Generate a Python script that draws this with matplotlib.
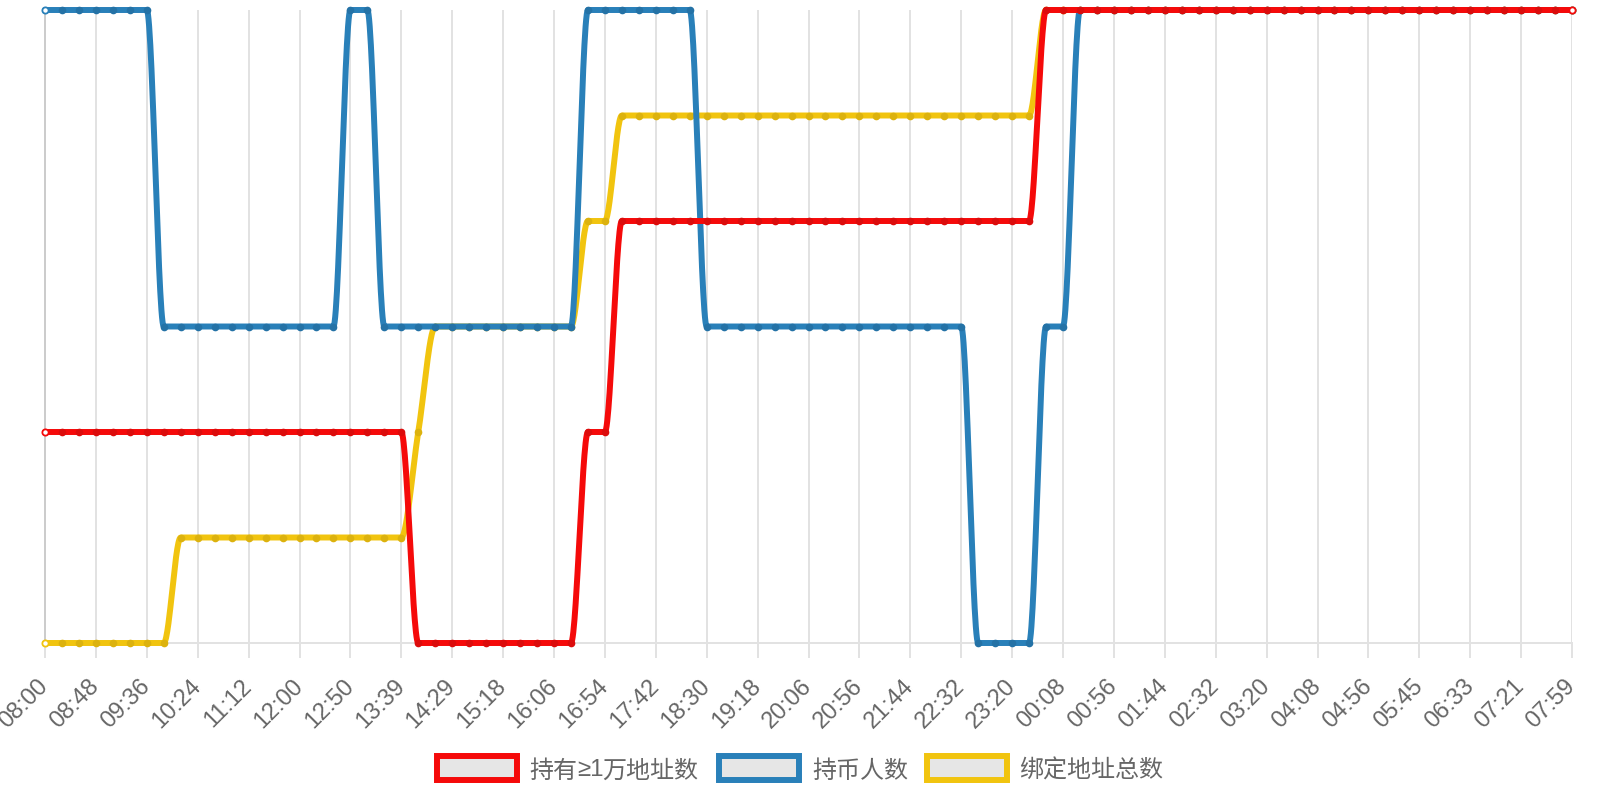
import numpy as np
import matplotlib
matplotlib.use("Agg")
import matplotlib.pyplot as plt
from matplotlib.patches import Rectangle

# one x-label every 3 samples (91 samples, 08:00 -> 07:59 next day)
time_labels = ["08:00", "08:48", "09:36", "10:24", "11:12", "12:00", "12:50",
               "13:39", "14:29", "15:18", "16:06", "16:54", "17:42", "18:30",
               "19:18", "20:06", "20:56", "21:44", "22:32", "23:20", "00:08",
               "00:56", "01:44", "02:32", "03:20", "04:08", "04:56", "05:45",
               "06:33", "07:21", "07:59"]

# legend names, split where the CJK font's glyphs differ from the original
series_names = [["持有", "≥1", "万地址数"], ["持币人数"], ["绑定地址总数"]]

holders_10k = [2, 2, 2, 2, 2, 2, 2, 2, 2, 2,
               2, 2, 2, 2, 2, 2, 2, 2, 2, 2,
               2, 2, 0, 0, 0, 0, 0, 0, 0, 0,
               0, 0, 2, 2, 4, 4, 4, 4, 4, 4,
               4, 4, 4, 4, 4, 4, 4, 4, 4, 4,
               4, 4, 4, 4, 4, 4, 4, 4, 4, 6,
               6, 6, 6, 6, 6, 6, 6, 6, 6, 6,
               6, 6, 6, 6, 6, 6, 6, 6, 6, 6,
               6, 6, 6, 6, 6, 6, 6, 6, 6, 6,
               6]
holders = [6, 6, 6, 6, 6, 6, 6, 3, 3, 3,
           3, 3, 3, 3, 3, 3, 3, 3, 6, 6,
           3, 3, 3, 3, 3, 3, 3, 3, 3, 3,
           3, 3, 6, 6, 6, 6, 6, 6, 6, 3,
           3, 3, 3, 3, 3, 3, 3, 3, 3, 3,
           3, 3, 3, 3, 3, 0, 0, 0, 0, 3,
           3, 6, 6, 6, 6, 6, 6, 6, 6, 6,
           6, 6, 6, 6, 6, 6, 6, 6, 6, 6,
           6, 6, 6, 6, 6, 6, 6, 6, 6, 6,
           6]
bound_total = [0, 0, 0, 0, 0, 0, 0, 0, 1, 1,
               1, 1, 1, 1, 1, 1, 1, 1, 1, 1,
               1, 1, 2, 3, 3, 3, 3, 3, 3, 3,
               3, 3, 4, 4, 5, 5, 5, 5, 5, 5,
               5, 5, 5, 5, 5, 5, 5, 5, 5, 5,
               5, 5, 5, 5, 5, 5, 5, 5, 5, 6,
               6, 6, 6, 6, 6, 6, 6, 6, 6, 6,
               6, 6, 6, 6, 6, 6, 6, 6, 6, 6,
               6, 6, 6, 6, 6, 6, 6, 6, 6, 6,
               6]

RED, BLUE, YELLOW = "#f50a0a", "#2980b9", "#f1c40f"
DOT = {RED: "#dc0c0c", BLUE: "#2472a6", YELLOW: "#dcb20e"}
W, H = 1600, 800
CJK = ["Noto Sans CJK SC", "DejaVu Sans"]


def monotone(y, steps=30):
    """Monotone cubic (Fritsch-Carlson, chart.js flavour)."""
    y = np.asarray(y, float)
    n = len(y)
    d = np.diff(y)
    m = np.zeros(n)
    m[0], m[-1] = d[0], d[-1]
    for i in range(1, n - 1):
        m[i] = 0 if np.sign(d[i - 1]) != np.sign(d[i]) else (d[i - 1] + d[i]) / 2
    for i in range(n - 1):
        if abs(d[i]) < 1e-9:
            m[i] = m[i + 1] = 0
            continue
        a, b = m[i] / d[i], m[i + 1] / d[i]
        s = a * a + b * b
        if s > 9:
            t = 3 / np.sqrt(s)
            m[i], m[i + 1] = a * t * d[i], b * t * d[i]
    t = np.linspace(0, 1, steps)
    h00 = 2 * t**3 - 3 * t**2 + 1
    h10 = t**3 - 2 * t**2 + t
    h01 = -2 * t**3 + 3 * t**2
    h11 = t**3 - t**2
    xs, ys = [], []
    for i in range(n - 1):
        xs.append(i + t)
        ys.append(h00 * y[i] + h10 * m[i] + h01 * y[i + 1] + h11 * m[i + 1])
    return np.concatenate(xs), np.concatenate(ys)


fig = plt.figure(figsize=(16, 8), dpi=100)
ax = fig.add_axes([45 / W, 1 - 643 / H, 1527 / W, 633 / H])

x = np.arange(len(holders))
for vals, col, z in [(bound_total, YELLOW, 3), (holders, BLUE, 4), (holders_10k, RED, 5)]:
    cx, cy = monotone(vals)
    ax.plot(cx, cy, color=col, lw=4.3, solid_capstyle="round", zorder=z, clip_on=False)
    ax.plot(x[1:-1], vals[1:-1], ls="none", marker="o", ms=5.5, mew=0,
            mfc=DOT[col], zorder=z, clip_on=False)
    ax.plot(x[[0, -1]], [vals[0], vals[-1]], ls="none", marker="o", ms=4.5, mew=1.3,
            mfc="white", mec=col, zorder=z, clip_on=False)

ax.set_xlim(0, len(holders) - 1)
ax.set_ylim(0, 6)
ax.set_xticks(x[::3])
ax.set_xticklabels(time_labels, rotation=45, ha="right", rotation_mode="anchor",
                   va="center", fontsize=17, color="#666666", family="Liberation Sans")
ax.set_yticks([])
ax.tick_params(axis="x", length=10.8, width=1.44, color="#e2e2e2", pad=18)
ax.grid(axis="x", color="#e2e2e2", lw=1.44, zorder=0)
ax.set_axisbelow(True)
for s in ("top", "right"):
    ax.spines[s].set_visible(False)
ax.spines["bottom"].set_color("#e2e2e2")
ax.spines["bottom"].set_linewidth(1.44)
ax.spines["left"].set_color("#cccccc")
ax.spines["left"].set_linewidth(1.44)

# legend, chart.js style boxes
legend_boxes = [(434, RED), (716, BLUE), (924, YELLOW)]
legend_text_x = [529, 812, 1019]
renderer = fig.canvas.get_renderer()
for (bx, col), tx, parts in zip(legend_boxes, legend_text_x, series_names):
    fig.add_artist(Rectangle(((bx + 3) / W, 1 - 780 / H), 80 / W, 24 / H,
                             transform=fig.transFigure, fc="#e6e6e6", ec=col, lw=4.3))
    px = tx
    for part in parts:
        fam = ["Liberation Sans"] if part.startswith("≥") else CJK
        t = fig.text(px / W, 1 - 768 / H, part, ha="left", va="center_baseline",
                     fontsize=17.3, color="#666666", family=fam)
        px += t.get_window_extent(renderer).width - (1 if fam != CJK else 0)

fig.savefig("out.png", dpi=100)
